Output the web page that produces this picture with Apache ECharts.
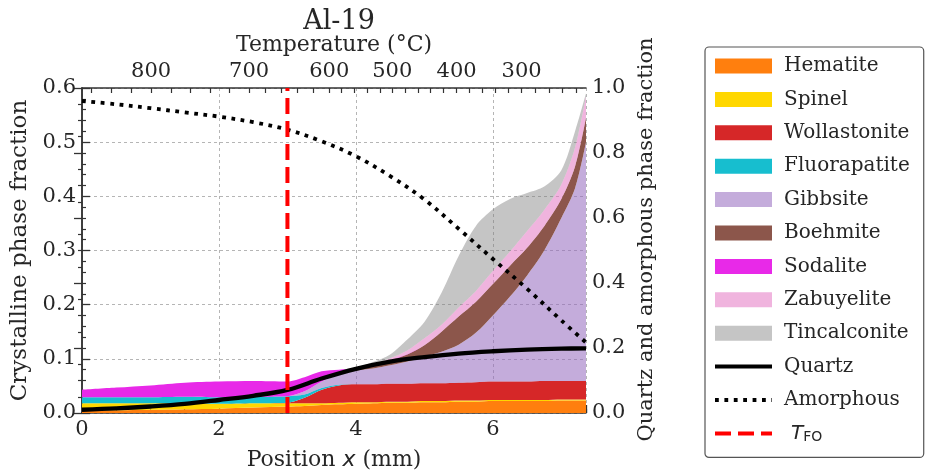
<!DOCTYPE html>
<html>
<head>
<meta charset="utf-8">
<script src="https://cdn.jsdelivr.net/npm/echarts@6/dist/echarts.min.js"></script>
<style>
html,body{margin:0;padding:0;background:#fff;}
#chart{width:925px;height:476px;}
</style>
</head>
<body>
<div id="chart"></div>
<script>
// ---- data ----
const xs = [0,0.5,1,1.5,2,2.5,3,3.25,3.5,3.75,4,4.25,4.5,4.75,5,5.25,5.5,5.75,6,6.25,6.5,6.75,7,7.2,7.36];
const hematite     = [.004,.005,.006,.007,.008,.010,.012,.013,.015,.016,.017,.018,.019,.019,.020,.020,.021,.021,.022,.022,.022,.022,.023,.023,.023];
const spinel       = [.014,.013,.012,.011,.009,.008,.006,.005,.003,.003,.003,.002,.002,.002,.002,.002,.002,.002,.002,.002,.002,.002,.002,.002,.002];
const wollastonite = [0,0,0,0,0,0,.001,.010,.025,.032,.033,.033,.033,.033,.033,.033,.033,.034,.034,.034,.034,.035,.034,.034,.034];
const fluorapatite = [.011,.011,.011,.012,.012,.012,.012,.006,.003,.001,0,0,0,0,0,0,0,0,0,0,0,0,0,0,0];
const gibbsite     = [0,0,0,0,0,0,0,.006,.012,.020,.025,.029,.034,.041,.049,.058,.070,.091,.122,.157,.196,.241,.301,.356,.441];
const boehmite     = [0,0,0,0,0,0,0,0,0,.001,.002,.005,.009,.013,.021,.037,.052,.057,.058,.057,.051,.045,.035,.040,.045];
const sodalite     = [.014,.018,.022,.026,.029,.029,.027,.026,.019,.007,.002,.001,.001,.0005,0,0,0,0,0,0,0,0,0,0,0];
const zabuyelite   = [0,0,0,0,0,0,0,0,0,0,.001,.001,.003,.007,.013,.013,.017,.020,.024,.026,.031,.030,.027,.035,.040];
const tincalconite = [0,0,0,0,0,0,0,0,0,0,.001,.005,.007,.020,.030,.059,.095,.120,.114,.097,.070,.043,.026,.030,.005];

const qx        = [0,0.5,1,1.5,2,2.5,3,3.5,4,4.5,5,5.5,6,6.5,7,7.36];
const quartz    = [.010,.014,.020,.028,.040,.053,.071,.106,.136,.158,.172,.183,.190,.195,.198,.199];
const amorphous = [.960,.950,.938,.925,.912,.895,.872,.836,.790,.729,.657,.567,.474,.382,.285,.217];

const tFO = [3.0];

const xTickLabels = [0,2,4,6];
const tempLabels   = ['800','700','600','500','400','300'];
const tempLabelPos = [1.01,2.44,3.61,4.53,5.47,6.42];
const tempTickPos  = [0.14,0.43,0.72,1.01,1.30,1.58,1.87,2.15,2.44,2.67,2.91,3.14,3.38,3.61,3.79,3.98,4.16,4.35,4.53,4.72,4.91,5.09,5.28,5.47,5.66,5.85,6.04,6.23,6.42,6.62,6.82,7.02,7.22];

// ---- chart ----
const XMAX = 7.36;
const FONT = 'DejaVu Serif';
const TXT = '#262626';
const AX = '#333';
const GRIDC = '#b5b5b5';
const chart = echarts.init(document.getElementById('chart'), null, {renderer:'canvas'});

// Stacked areas are placed on a hidden linear (time-type) x axis, scaled x1000,
// so that ECharts stacks the y values (a value-type base axis would stack x).
function area(name, vals, color){
  return {
    name, type:'line', stack:'crys', xAxisIndex:3, yAxisIndex:0,
    data: xs.map((x,i)=>[x*1000, vals[i]]),
    smooth:0.3, symbol:'none', showSymbol:false,
    lineStyle:{width:0}, itemStyle:{color}, areaStyle:{color, opacity:1},
    z:2, silent:true
  };
}

const areaNames = ['Hematite','Spinel','Wollastonite','Fluorapatite','Gibbsite','Boehmite','Sodalite','Zabuyelite','Tincalconite'];
const lineLegend = [
  {name:'Quartz', itemStyle:{opacity:0}, lineStyle:{width:4}},
  {name:'Amorphous', itemStyle:{opacity:0}, lineStyle:{width:3.8}},
  {name:'T_FO', itemStyle:{opacity:0}, lineStyle:{width:4}}
];

const option = {
  animation:false,
  backgroundColor:'#fff',
  title:{text:'Al-19', left:334, textAlign:'center', top:3,
    textStyle:{fontFamily:FONT, fontSize:27, fontWeight:'normal', color:TXT}},
  grid:{left:82, right:339, top:88, bottom:61, containLabel:false},
  legend:{
    orient:'vertical', left:705, top:47,
    itemWidth:57, itemHeight:15, itemGap:13.4,
    padding:[9,14,13,8],
    borderColor:'#555', borderWidth:1.2, borderRadius:4,
    selectedMode:false,
    textStyle:{fontFamily:FONT, fontSize:20, color:TXT, lineHeight:20, padding:[0,0,0,7],
      rich:{
        i:{fontFamily:'DejaVu Sans', fontStyle:'italic', fontSize:20, color:TXT, padding:[0,0,0,7]},
        s:{fontFamily:'DejaVu Sans', fontSize:14, color:TXT, padding:[8,0,0,0]}
      }},
    formatter:function(n){ return n==='T_FO' ? '{i|T}{s|FO}' : n; },
    data: areaNames.map(n=>({name:n, icon:'rect'})).concat(lineLegend)
  },
  xAxis:[
    { type:'value', position:'bottom', min:0, max:XMAX, interval:2,
      name:'{a|Position }{b|x}{a| (mm)}', nameLocation:'middle', nameGap:36,
      nameTextStyle:{rich:{
        a:{fontFamily:FONT, fontSize:22, color:TXT},
        b:{fontFamily:'DejaVu Sans', fontStyle:'italic', fontSize:22, color:TXT}}},
      axisLine:{show:true, lineStyle:{color:AX, width:1.5}},
      axisTick:{show:true, inside:true, length:8, lineStyle:{color:AX, width:1.3}},
      axisLabel:{show:true, customValues:xTickLabels, fontFamily:FONT, fontSize:21, color:TXT, margin:6,
        formatter:v=>String(v)},
      splitLine:{show:true, lineStyle:{color:GRIDC, width:1, type:[3,3]}}
    },
    { type:'value', position:'bottom', min:0, max:XMAX, interval:0.5,
      axisLine:{show:false}, axisLabel:{show:false}, splitLine:{show:false},
      axisTick:{show:true, inside:true, length:4, lineStyle:{color:AX, width:1.2}}
    },
    { type:'value', position:'top', min:0, max:XMAX,
      name:'Temperature (°C)', nameLocation:'middle', nameGap:32,
      nameTextStyle:{fontFamily:FONT, fontSize:22, color:TXT},
      axisLine:{show:true, lineStyle:{color:AX, width:1.5}},
      axisTick:{show:true, inside:true, length:5, customValues:tempTickPos, lineStyle:{color:AX, width:1.2}},
      axisLabel:{show:true, customValues:tempLabelPos, fontFamily:FONT, fontSize:21, color:TXT, margin:6,
        formatter:function(v){
          for(let i=0;i<tempLabelPos.length;i++){ if(Math.abs(tempLabelPos[i]-v)<1e-6) return tempLabels[i]; }
          return '';
        }},
      splitLine:{show:false}
    },
    { type:'time', position:'bottom', show:false, min:0, max:XMAX*1000,
      axisLine:{show:false}, axisTick:{show:false}, axisLabel:{show:false}, splitLine:{show:false} }
  ],
  yAxis:[
    { type:'value', position:'left', min:0, max:0.6, interval:0.1,
      name:'Crystalline phase fraction', nameLocation:'middle', nameGap:48, nameRotate:90,
      nameTextStyle:{fontFamily:FONT, fontSize:23, color:TXT},
      axisLine:{show:true, lineStyle:{color:AX, width:1.5}},
      axisTick:{show:true, inside:true, length:8, lineStyle:{color:AX, width:1.3}},
      minorTick:{show:true, splitNumber:5, length:4, lineStyle:{color:AX, width:1.2}},
      axisLabel:{fontFamily:FONT, fontSize:21, color:TXT, margin:6, formatter:v=>v.toFixed(1)},
      splitLine:{show:true, lineStyle:{color:GRIDC, width:1, type:[3,3]}}
    },
    { type:'value', position:'right', min:0, max:1, interval:0.2,
      name:'Quartz and amorphous phase fraction', nameLocation:'middle', nameGap:50, nameRotate:90,
      nameTextStyle:{fontFamily:FONT, fontSize:21, color:TXT, padding:[0,0,0,22]},
      axisLine:{show:true, lineStyle:{color:AX, width:1.5}},
      axisTick:{show:true, inside:true, length:8, lineStyle:{color:AX, width:1.3}},
      minorTick:{show:true, splitNumber:4, length:4, lineStyle:{color:AX, width:1.2}},
      axisLabel:{fontFamily:FONT, fontSize:21, color:TXT, margin:6, formatter:v=>v.toFixed(1)},
      splitLine:{show:false}
    }
  ],
  series:[
    area('Hematite', hematite, '#ff7f0e'),
    area('Spinel', spinel, '#ffd700'),
    area('Wollastonite', wollastonite, '#d62728'),
    area('Fluorapatite', fluorapatite, '#17becf'),
    area('Gibbsite', gibbsite, 'rgba(148,103,189,0.55)'),
    area('Boehmite', boehmite, '#8c564b'),
    area('Sodalite', sodalite, '#e829e8'),
    area('Zabuyelite', zabuyelite, 'rgba(227,119,194,0.55)'),
    area('Tincalconite', tincalconite, 'rgba(127,127,127,0.45)'),
    { name:'Quartz', type:'line', xAxisIndex:0, yAxisIndex:1,
      data: qx.map((x,i)=>[x, quartz[i]]), smooth:0.35,
      symbol:'none', showSymbol:false, silent:true,
      itemStyle:{color:'#000'}, lineStyle:{color:'#000', width:4.3}, z:5 },
    { name:'Amorphous', type:'line', xAxisIndex:0, yAxisIndex:1,
      data: qx.map((x,i)=>[x, amorphous[i]]), smooth:0.35,
      symbol:'none', showSymbol:false, silent:true,
      itemStyle:{color:'#000'}, lineStyle:{color:'#000', width:3.8, type:[3.8,5.6], cap:'butt'}, z:5 },
    { name:'T_FO', type:'line', xAxisIndex:0, yAxisIndex:0,
      data: [[tFO[0], 0], [tFO[0], 0.6]],
      symbol:'none', showSymbol:false, silent:true,
      itemStyle:{color:'#ff0000'}, lineStyle:{color:'#ff0000', width:4, type:[16,7], cap:'butt'}, z:6 }
  ]
};
chart.setOption(option);
</script>
</body>
</html>
